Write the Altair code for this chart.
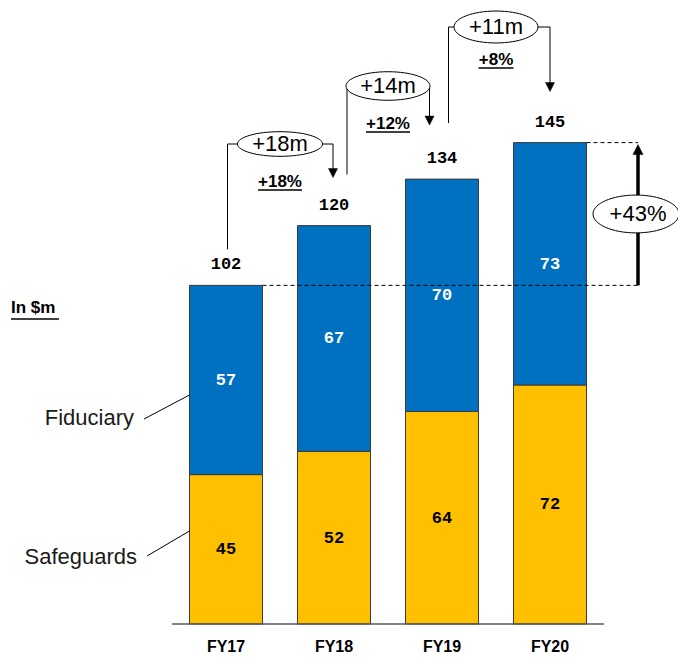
import altair as alt
import pandas as pd

# ---------------- data ----------------
categories = ["FY17", "FY18", "FY19", "FY20"]
safeguards = [45, 52, 64, 72]
fiduciary = [57, 67, 70, 73]
totals = [102, 120, 134, 145]
growth_abs = ["+18m", "+14m", "+11m"]
growth_pct = ["+18%", "+12%", "+8%"]
total_growth = "+43%"
series_names = ["Safeguards", "Fiduciary"]
unit_label = "In $m"

# ---------------- layout ----------------
BLUE = "#0070C0"
YELLOW = "#FFC000"
W, H = 678, 658
PX_X = 108.0   # pixels per category step
PX_Y = 3.32    # pixels per $m
X0 = 172       # pixel x where the category axis starts
Y0 = 624       # pixel y of the baseline
HALF = 0.338   # half bar width in category steps

xs = alt.Scale(domain=[-X0 / PX_X, (W - X0) / PX_X], nice=False, zero=False)
ys = alt.Scale(domain=[-(H - Y0) / PX_Y, Y0 / PX_Y], nice=False, zero=False)


def px_dx(p):
    return p / PX_X


def px_dy(p):
    return p / PX_Y


def at_x(p):
    return (p - X0) / PX_X


def at_y(p):
    return (Y0 - p) / PX_Y


def ellipse(r):
    return f"M-1,0 A1,{r} 0 1,1 1,0 A1,{r} 0 1,1 -1,0 Z"


DOWN = "M-1,-1 L1,-1 L0,1 Z"
UP = "M0,-1 L1,1 L-1,1 Z"

bar_rows, seg_rows, tot_rows, cat_rows = [], [], [], []
for i, c in enumerate(categories):
    cx = i + 0.5
    s, f, t = safeguards[i], fiduciary[i], totals[i]
    bar_rows.append(dict(x=cx - HALF, x2=cx + HALF, y=0, y2=s, fill=YELLOW))
    bar_rows.append(dict(x=cx - HALF, x2=cx + HALF, y=s, y2=t, fill=BLUE))
    seg_rows.append(dict(x=cx, y=s / 2, t=str(s), c="#000000"))
    seg_rows.append(dict(x=cx, y=(s + t) / 2, t=str(f), c="#FFFFFF"))
    tot_rows.append(dict(x=cx, y=t + px_dy(21), t=str(t)))
    cat_rows.append(dict(x=cx, y=-px_dy(23), t=c))

# growth connectors
left_dx = [1.5, 13, 6.5]
left_gap = [36, 51, 56]
ell_py = [144, 86, 27]
right_dx = [-1, -12.5, 0]
tip_gap = [48, 54, 51]
ell_ratio = [0.29, 0.34, 0.38]
ell_w = [85, 84, 84]
pct_gap = [38, 38, 33]
ul_w = [44, 44, 35]

thin, heads, ells, ell_txt, pct_rows, ul_rows = [], [], [], [], [], []
for i in range(3):
    xl = i + 0.5 + px_dx(left_dx[i])
    yb = totals[i] + px_dy(left_gap[i])
    ex = i + 1.0
    ey = at_y(ell_py[i])
    xr = i + 1.5 + px_dx(right_dx[i])
    yt = totals[i + 1] + px_dy(tip_gap[i])
    thin += [
        dict(x=xl, y=yb, x2=xl, y2=ey),
        dict(x=xl, y=ey, x2=ex, y2=ey),
        dict(x=ex, y=ey, x2=xr, y2=ey),
        dict(x=xr, y=ey, x2=xr, y2=yt + px_dy(6)),
    ]
    heads.append(dict(x=xr, y=yt + px_dy(4.5), shape=DOWN, size=81))
    ells.append(dict(x=ex, y=ey, shape=ellipse(ell_ratio[i]), size=ell_w[i] ** 2))
    ell_txt.append(dict(x=ex, y=ey, t=growth_abs[i]))
    py = ey - px_dy(pct_gap[i])
    pct_rows.append(dict(x=ex, y=py, t=growth_pct[i]))
    uly = py - px_dy(8)
    ul_rows.append(dict(x=ex - px_dx(ul_w[i] / 2), x2=ex + px_dx(ul_w[i] / 2), y=uly, y2=uly))

# total growth arrow
xt = at_x(638)
dashed = [
    dict(x=0.5 + HALF, x2=xt, y=totals[0], y2=totals[0]),
    dict(x=3.5 + HALF, x2=xt, y=totals[-1], y2=totals[-1]),
]
thick = [dict(x=xt, x2=xt, y=totals[0], y2=totals[-1] - px_dy(10))]
heads.append(dict(x=xt, y=totals[-1] - px_dy(7), shape=UP, size=100))
big_y = (totals[0] + totals[-1]) / 2
ells.append(dict(x=at_x(636), y=big_y, shape=ellipse(0.44), size=86 ** 2))

# legend-like labels on the left
lead = [
    dict(x=at_x(144), y=at_y(419), x2=0.5 - HALF, y2=at_y(395)),
    dict(x=at_x(147), y=at_y(556), x2=0.5 - HALF, y2=at_y(531)),
]
thin += lead
side_rows = [
    dict(x=at_x(134), y=at_y(418), t=series_names[1]),
    dict(x=at_x(137), y=at_y(557), t=series_names[0]),
]
unit_rows = [dict(x=at_x(11), y=at_y(308), t=unit_label)]
ul_rows.append(dict(x=at_x(11), x2=at_x(59), y=at_y(319), y2=at_y(319)))

axis_rows = [dict(x=0, x2=len(categories), y=0, y2=0)]


def X(f):
    return alt.X(f, type="quantitative", scale=xs, axis=None)


def Y(f):
    return alt.Y(f, type="quantitative", scale=ys, axis=None)


def X2(f):
    return alt.X2(f)


def Y2(f):
    return alt.Y2(f)


bars = alt.Chart(pd.DataFrame(bar_rows)).mark_rect(stroke="#3a3a3a", strokeWidth=1).encode(
    x=X("x"), x2=X2("x2"), y=Y("y"), y2=Y2("y2"),
    fill=alt.Fill("fill:N", scale=None),
)

axis_line = alt.Chart(pd.DataFrame(axis_rows)).mark_rule(color="#595959", strokeWidth=1.5).encode(
    x=X("x"), x2=X2("x2"), y=Y("y"), y2=Y2("y2")
)

seg_text = alt.Chart(pd.DataFrame(seg_rows)).mark_text(
    font="Liberation Mono", fontWeight="bold", fontSize=17, baseline="middle"
).encode(x=X("x"), y=Y("y"), text="t:N", color=alt.Color("c:N", scale=None))

tot_text = alt.Chart(pd.DataFrame(tot_rows)).mark_text(
    font="Liberation Mono", fontWeight="bold", fontSize=17, baseline="middle", color="#000000"
).encode(x=X("x"), y=Y("y"), text="t:N")

cat_text = alt.Chart(pd.DataFrame(cat_rows)).mark_text(
    font="Liberation Sans Narrow, Liberation Sans", fontWeight="bold", fontSize=16,
    baseline="middle", color="#000000"
).encode(x=X("x"), y=Y("y"), text="t:N")

thin_lines = alt.Chart(pd.DataFrame(thin)).mark_rule(color="#000000", strokeWidth=1).encode(
    x=X("x"), x2=X2("x2"), y=Y("y"), y2=Y2("y2")
)

dashed_lines = alt.Chart(pd.DataFrame(dashed)).mark_rule(
    color="#000000", strokeWidth=1, strokeDash=[4, 3]
).encode(x=X("x"), x2=X2("x2"), y=Y("y"), y2=Y2("y2"))

thick_line = alt.Chart(pd.DataFrame(thick)).mark_rule(color="#000000", strokeWidth=3.5).encode(
    x=X("x"), x2=X2("x2"), y=Y("y"), y2=Y2("y2")
)

underlines = alt.Chart(pd.DataFrame(ul_rows)).mark_rule(color="#000000", strokeWidth=1.5).encode(
    x=X("x"), x2=X2("x2"), y=Y("y"), y2=Y2("y2")
)

arrow_heads = alt.Chart(pd.DataFrame(heads)).mark_point(
    filled=True, fill="#000000", stroke="#000000", strokeWidth=0.5, opacity=1
).encode(
    x=X("x"), y=Y("y"),
    shape=alt.Shape("shape:N", scale=None),
    size=alt.Size("size:Q", scale=None),
)

ellipses = alt.Chart(pd.DataFrame(ells)).mark_point(
    filled=True, fill="#FFFFFF", stroke="#000000", strokeWidth=1, opacity=1, fillOpacity=1
).encode(
    x=X("x"), y=Y("y"),
    shape=alt.Shape("shape:N", scale=None),
    size=alt.Size("size:Q", scale=None),
)

ell_text = alt.Chart(pd.DataFrame(ell_txt)).mark_text(
    font="Liberation Sans", fontSize=22, baseline="middle", color="#000000"
).encode(x=X("x"), y=Y("y"), text="t:N")

big_text = alt.Chart(pd.DataFrame([dict(x=at_x(638), y=big_y, t=total_growth)])).mark_text(
    font="Liberation Sans", fontSize=22, baseline="middle", color="#000000"
).encode(x=X("x"), y=Y("y"), text="t:N")

pct_text = alt.Chart(pd.DataFrame(pct_rows)).mark_text(
    font="Liberation Sans", fontWeight="bold", fontSize=17, baseline="middle", color="#000000"
).encode(x=X("x"), y=Y("y"), text="t:N")

side_text = alt.Chart(pd.DataFrame(side_rows)).mark_text(
    font="Liberation Sans", fontSize=22, baseline="middle", align="right", color="#1a1a1a"
).encode(x=X("x"), y=Y("y"), text="t:N")

unit_text = alt.Chart(pd.DataFrame(unit_rows)).mark_text(
    font="Liberation Sans", fontWeight="bold", fontSize=17, baseline="middle", align="left",
    color="#000000"
).encode(x=X("x"), y=Y("y"), text="t:N")

chart = alt.layer(
    bars, axis_line, thin_lines, dashed_lines, thick_line, underlines,
    arrow_heads, ellipses, seg_text, tot_text, cat_text, ell_text, big_text,
    pct_text, side_text, unit_text,
).properties(
    width=W, height=H, padding=0, autosize="none", background="#FFFFFF"
).configure_view(stroke=None)

chart.save("out.html", embed_options={"renderer": "svg", "actions": False})
